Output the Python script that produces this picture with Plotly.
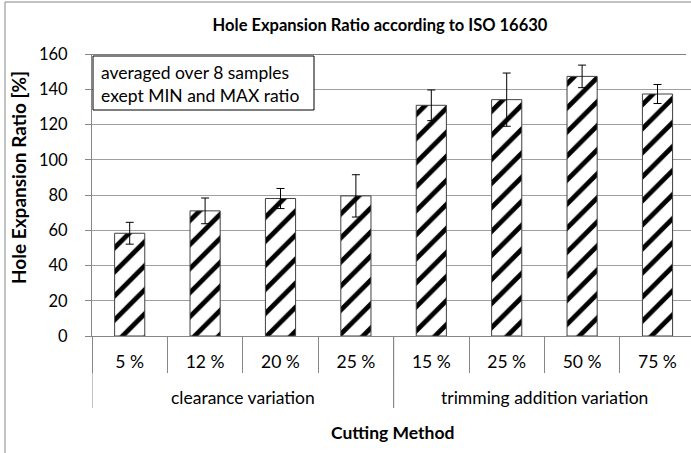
import plotly.graph_objects as go

# Hole expansion ratio per cutting method (mean and spread over 8 samples)
categories = ["5 %", "12 %", "20 %", "25 %", "15 %", "25 %", "50 %", "75 %"]
groups = ["clearance variation", "trimming addition variation"]
group_sizes = [4, 4]
her_mean = [58.3, 71.0, 78.0, 79.5, 130.9, 134.1, 147.3, 137.3]
her_err = [6.2, 7.3, 5.7, 12.0, 8.7, 15.1, 6.4, 5.4]
y_ticks = [0, 20, 40, 60, 80, 100, 120, 140, 160]

W, H = 691, 453
L, R, T, B = 92, 0, 54, 117
PW, PH = W - L - R, H - T - B
CAT_W = 75.4  # pixel width of one category slot

FONT = "Lato"
AXIS_GREY = "#868686"


def px_x(px):
    return (px - L) / PW


def px_y(py):
    return (H - B - py) / PH


x_idx = list(range(len(categories)))

fig = go.Figure()
fig.add_trace(go.Bar(
    x=x_idx,
    y=her_mean,
    width=0.4,
    marker=dict(
        color="white",
        line=dict(color="#404040", width=1),
        pattern=dict(shape="/", fgcolor="black", bgcolor="white",
                     fgopacity=1, size=17, solidity=0.28, fillmode="replace"),
    ),
    error_y=dict(type="data", array=her_err, symmetric=True,
                 color="black", thickness=1, width=4),
    showlegend=False,
))

x_max = -0.5 + PW / CAT_W

shapes = []
# group dividers below the category axis
start = -0.5
for n in group_sizes:
    for xb in (start, start + n):
        shapes.append(dict(type="line", xref="x", yref="paper",
                           x0=xb, x1=xb, y0=0, y1=px_y(408),
                           line=dict(color=AXIS_GREY, width=1)))
    start += n
# dark top border of the plot area
shapes.append(dict(type="line", xref="paper", yref="y",
                   x0=0, x1=px_x(686), y0=160, y1=160,
                   line=dict(color="black", width=1)))
# note box
shapes.append(dict(type="rect", xref="paper", yref="paper",
                   x0=px_x(93), x1=px_x(314), y0=px_y(110), y1=px_y(56),
                   line=dict(color="black", width=1), fillcolor="white",
                   layer="above"))
# chart frame
shapes.append(dict(type="rect", xref="paper", yref="paper",
                   x0=px_x(5), x1=px_x(720), y0=px_y(480), y1=px_y(2),
                   line=dict(color=AXIS_GREY, width=1), fillcolor="rgba(0,0,0,0)",
                   layer="below"))

annotations = []
start = -0.5
for g, n in zip(groups, group_sizes):
    annotations.append(dict(text=g, xref="x", yref="paper",
                            x=start + n / 2, y=px_y(397), showarrow=False,
                            xanchor="center", yanchor="middle",
                            font=dict(family=FONT, size=17.5, color="black")))
    start += n
annotations.append(dict(text="averaged over 8 samples<br>exept MIN and MAX ratio",
                        xref="paper", yref="paper", x=px_x(99), y=px_y(84),
                        xanchor="left", yanchor="middle", align="left",
                        showarrow=False,
                        font=dict(family=FONT, size=17.5, color="black")))
annotations.append(dict(text="<b>Cutting Method</b>", xref="paper", yref="paper",
                        x=px_x(392), y=px_y(432), showarrow=False,
                        xanchor="center", yanchor="middle",
                        font=dict(family=FONT, size=17.5, color="black")))
annotations.append(dict(text="<b>Hole Expansion Ratio [%]</b>", xref="paper",
                        yref="paper", x=px_x(18), y=px_y(178), textangle=-90,
                        showarrow=False, xanchor="center", yanchor="middle",
                        font=dict(family=FONT, size=19, color="black")))

fig.update_layout(
    width=W, height=H, autosize=False,
    margin=dict(l=L, r=R, t=T, b=B, pad=0),
    paper_bgcolor="white", plot_bgcolor="white",
    title=dict(text="<b>Hole Expansion Ratio according to ISO 16630</b>",
               xref="paper", x=px_x(380), xanchor="center",
               yref="container", y=1 - 25 / H, yanchor="middle",
               font=dict(family=FONT, size=16.5, color="black")),
    xaxis=dict(range=[-0.5, x_max], tickmode="array", tickvals=x_idx,
               ticktext=categories, ticks="", showgrid=False, zeroline=False,
               showline=True, linecolor=AXIS_GREY, linewidth=1,
               ticklabelstandoff=10,
               tickfont=dict(family=FONT, size=17.5, color="black"),
               minor=dict(tick0=-0.5, dtick=1, ticks="outside", ticklen=36,
                          tickcolor=AXIS_GREY, tickwidth=1, showgrid=False)),
    yaxis=dict(range=[0, 160], tickmode="array", tickvals=y_ticks,
               ticks="outside", ticklen=6, tickcolor=AXIS_GREY,
               showline=True, linecolor=AXIS_GREY, linewidth=1,
               showgrid=True, gridcolor="#a0a0a0", gridwidth=1,
               zeroline=False, ticklabelstandoff=14,
               tickfont=dict(family=FONT, size=16.5, color="black")),
    shapes=shapes,
    annotations=annotations,
    bargap=0.6,
)

fig.write_html("out.html")
